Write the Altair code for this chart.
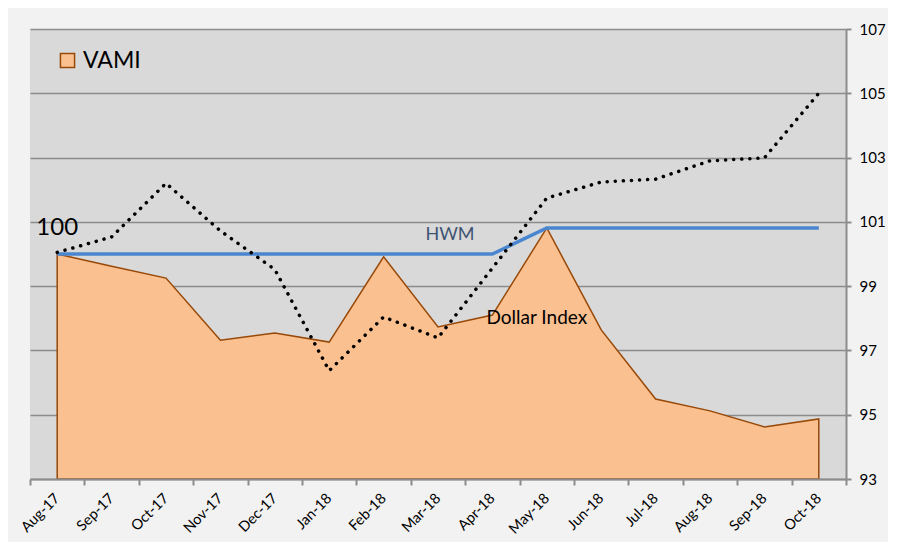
import altair as alt
import pandas as pd

months = ["Aug-17", "Sep-17", "Oct-17", "Nov-17", "Dec-17", "Jan-18", "Feb-18",
          "Mar-18", "Apr-18", "May-18", "Jun-18", "Jul-18", "Aug-18", "Sep-18", "Oct-18"]
vami = [100.0, 99.62, 99.25, 97.32, 97.54, 97.26, 99.91, 97.73, 98.10, 100.81,
        97.64, 95.49, 95.12, 94.62, 94.87]
hwm = [100.0, 100.0, 100.0, 100.0, 100.0, 100.0, 100.0, 100.0, 100.0, 100.81,
       100.81, 100.81, 100.81, 100.81, 100.81]
dollar = [100.05, 100.53, 102.2, 100.72, 99.52, 96.37, 98.04, 97.39, 99.56, 101.74,
          102.24, 102.33, 102.9, 102.99, 105.0]
y_ticks = [93, 95, 97, 99, 101, 103, 105, 107]

ann_text = ["100", "HWM", "Dollar Index"]
ann_month = ["Aug-17", "Mar-18", "May-18"]
ann_y = [100.81, 100.59, 98.01]

df = pd.DataFrame({"month": months, "VAMI": vami, "HWM": hwm, "Dollar": dollar,
                   "series": ["VAMI"] * len(months)})
ann = pd.DataFrame({"text": ann_text, "month": ann_month, "y": ann_y})

FONT = "Lato"
GRID = "#8C8C8C"

x_enc = alt.X("month:N", sort=months, bandPosition=0.5,
              scale=alt.Scale(type="band", paddingInner=0, paddingOuter=0),
              axis=alt.Axis(title=None, labelAngle=-45, labelAlign="right",
                            labelBaseline="middle", labelFontSize=14.5, labelFont=FONT,
                            labelColor="#000000", tickBand="extent", tickSize=6,
                            tickColor=GRID, tickWidth=2, domainColor=GRID, domainWidth=2,
                            labelPadding=11, grid=False, zindex=1))
y_scale = alt.Scale(domain=[93, 107], nice=False, zero=False)
y_axis = alt.Axis(title=None, orient="right", values=y_ticks, labelFontSize=15,
                  labelFont=FONT, labelColor="#000000", tickSize=5, tickColor=GRID,
                  tickWidth=2, domainColor=GRID, domainWidth=2, gridColor=GRID,
                  gridWidth=1.5, labelPadding=8)

base = alt.Chart(df)

area = base.mark_area(stroke="#984807", strokeWidth=1.5, opacity=1).encode(
    x=x_enc,
    y=alt.Y("VAMI:Q", scale=y_scale, axis=y_axis),
    y2=alt.datum(93),
    fill=alt.Fill("series:N", scale=alt.Scale(domain=["VAMI"], range=["#FAC090"]),
                  legend=alt.Legend(title=None, orient="none", legendX=26, legendY=20,
                                    symbolType="square", symbolSize=200,
                                    symbolStrokeColor="#984807", symbolStrokeWidth=1.5,
                                    labelFontSize=23, labelFont=FONT, labelColor="#000000",
                                    labelOffset=4)),
)

hwm_line = base.mark_line(color="#4A86D0", strokeWidth=3.5).encode(
    x=alt.X("month:N", sort=months, bandPosition=0.5),
    y=alt.Y("HWM:Q", scale=y_scale),
)

dollar_line = base.mark_line(color="#000000", strokeWidth=3.5, strokeDash=[0.1, 8],
                             strokeCap="round").encode(
    x=alt.X("month:N", sort=months, bandPosition=0.5),
    y=alt.Y("Dollar:Q", scale=y_scale),
)

ann_colors = ["#000000", "#3F5473", "#000000"]
ann_sizes = [24, 18, 19]
ann_dx = [0, 12, -10]
texts = []
for i in range(3):
    t = alt.Chart(ann.iloc[[i]]).mark_text(
        font=FONT, fontSize=ann_sizes[i], color=ann_colors[i], dx=ann_dx[i],
        align="center", baseline="middle").encode(
        x=alt.X("month:N", sort=months, bandPosition=0.5),
        y=alt.Y("y:Q", scale=y_scale),
        text="text:N",
    )
    texts.append(t)

chart = alt.layer(area, hwm_line, dollar_line, *texts).properties(
    width=816, height=450,
    autosize=alt.AutoSizeParams(type="none"),
    padding={"left": 22, "top": 21, "right": 42, "bottom": 63},
    background="#F2F2F2",
).configure_view(fill="#D9D9D9", stroke=None)

chart.save("out.html", embed_options={"renderer": "svg", "actions": False})
